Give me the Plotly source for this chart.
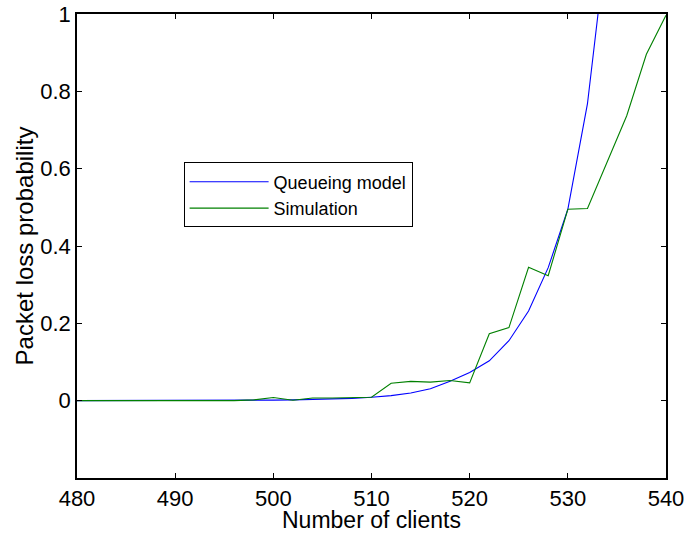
import plotly.graph_objects as go

clients = [480, 482, 484, 486, 488, 490, 492, 494, 496, 498, 500, 502, 504, 506, 508,
           510, 512, 514, 516, 518, 520, 522, 524, 526, 528, 530, 532, 534, 536, 538, 540]

queueing = [0.0, 0.0, 0.0, 0.0, 0.0, 0.0, 0.0, 0.0, 0.0005, 0.001, 0.0015, 0.002, 0.003,
            0.004, 0.006, 0.009, 0.013, 0.02, 0.031, 0.05, 0.073, 0.103, 0.155, 0.232,
            0.344, 0.495, 0.768, 1.2, None, None, None]

simulation = [0.0, 0.0, 0.0, 0.0, 0.0, 0.0, 0.0, 0.0, 0.0, 0.002, 0.008, 0.001, 0.007,
              0.007, 0.008, 0.009, 0.045, 0.05, 0.048, 0.052, 0.046, 0.173, 0.189, 0.345,
              0.323, 0.495, 0.497, 0.617, 0.737, 0.896, 0.997]

x_ticks = [480, 490, 500, 510, 520, 530, 540]
y_ticks = [0, 0.2, 0.4, 0.6, 0.8, 1]
y_tick_labels = ["0", "0.2", "0.4", "0.6", "0.8", "1"]

x_title = "Number of clients"
y_title = "Packet loss probability"

FONT = "Liberation Sans, Arial, Helvetica, sans-serif"

fig = go.Figure()
fig.add_trace(go.Scatter(x=clients, y=queueing, mode="lines", name="Queueing model",
                         line=dict(color="#0000ff", width=1.1), connectgaps=False))
fig.add_trace(go.Scatter(x=clients, y=simulation, mode="lines", name="Simulation",
                         line=dict(color="#008000", width=1.1)))

axis_common = dict(showline=True, linecolor="black", linewidth=1.6, mirror="ticks",
                   ticks="inside", ticklen=5, tickcolor="black", tickwidth=1,
                   showgrid=False, zeroline=False, automargin=False,
                   tickfont=dict(family=FONT, size=22, color="black"))

fig.update_xaxes(range=[480, 540], tickvals=x_ticks, **axis_common)
fig.update_yaxes(range=[-0.2, 1], tickvals=y_ticks, ticktext=y_tick_labels,
                 title=dict(text=y_title, font=dict(family=FONT, size=24, color="black"),
                            standoff=0),
                 **axis_common)

fig.add_annotation(text=x_title, xref="paper", yref="paper", x=0.5, y=0,
                   xanchor="center", yanchor="top", yshift=-27, showarrow=False,
                   font=dict(family=FONT, size=23, color="black"))

fig.update_layout(
    width=687, height=537,
    margin=dict(l=77, r=21, t=14, b=59),
    paper_bgcolor="white", plot_bgcolor="white",
    font=dict(family=FONT, color="black"),
    legend=dict(x=0.181, y=0.68, xanchor="left", yanchor="top",
                bordercolor="black", borderwidth=1, bgcolor="white",
                font=dict(family=FONT, size=18, color="black"),
                itemwidth=79, tracegroupgap=0),
)

fig.write_html("out.html", config={"displayModeBar": False},
               post_script="document.body.style.margin='0';document.body.style.overflow='hidden';")
